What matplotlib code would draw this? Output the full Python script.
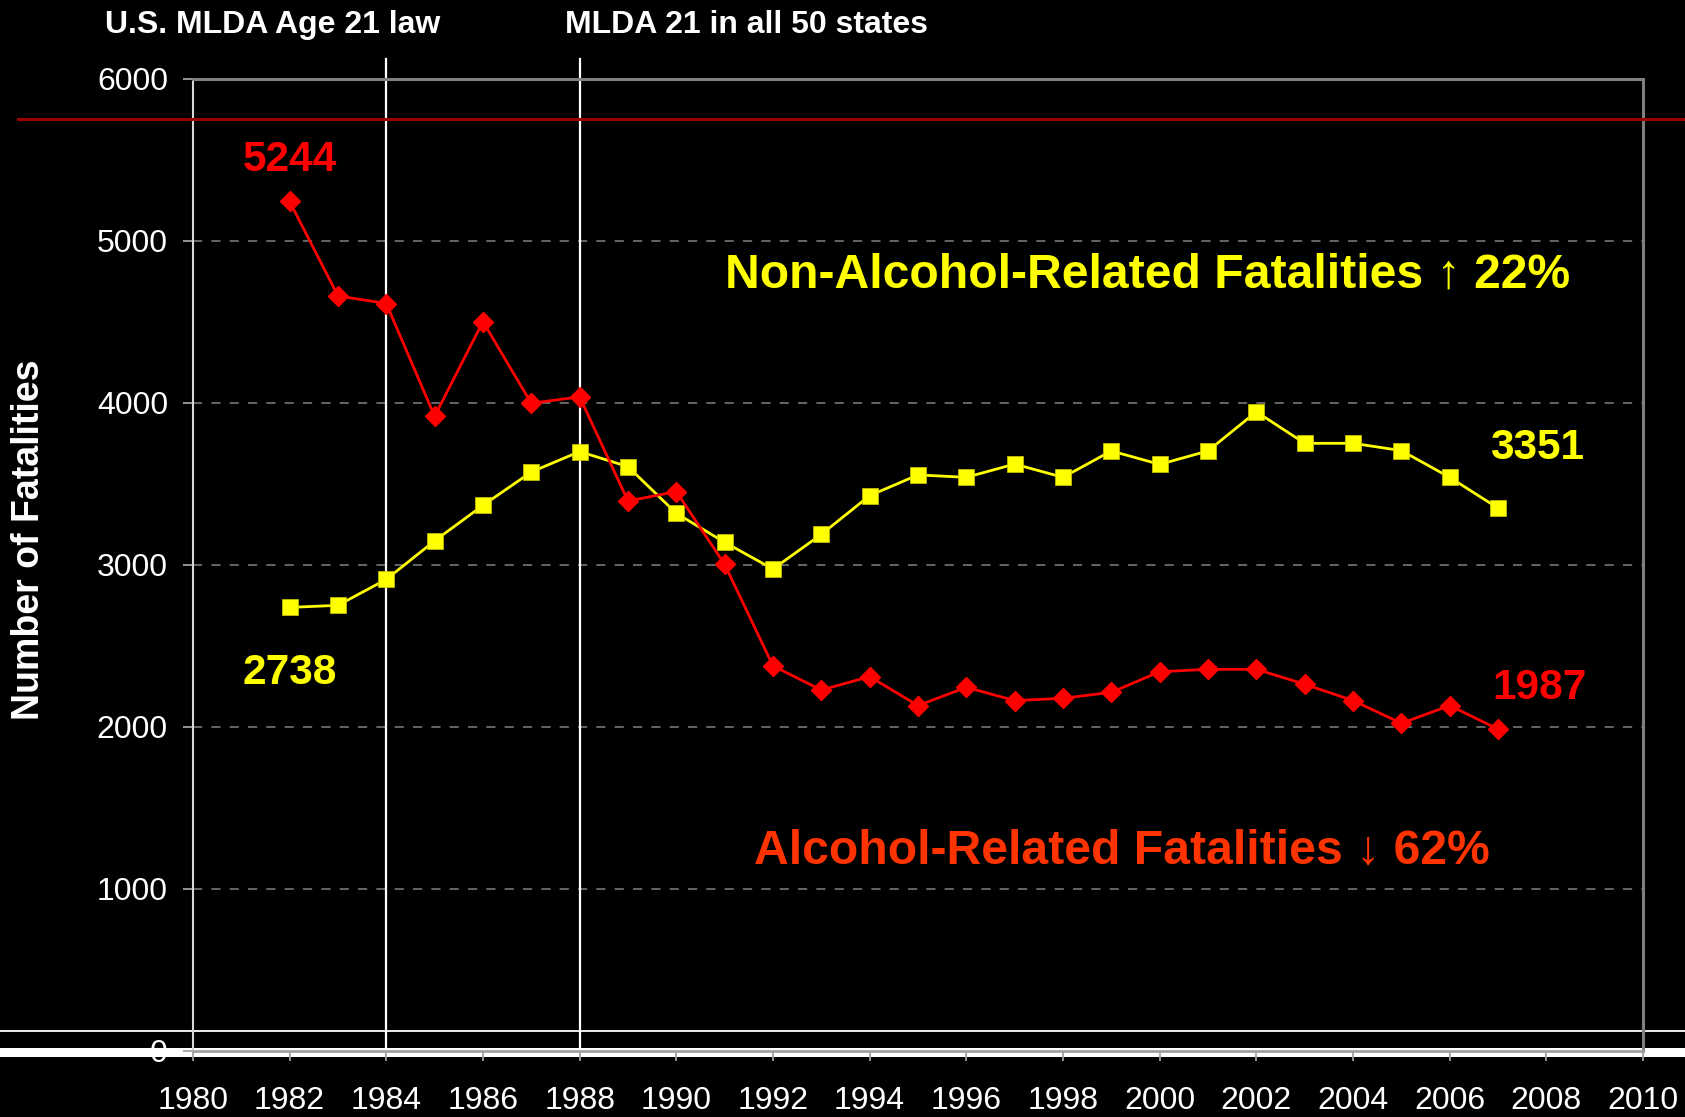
import matplotlib
matplotlib.use('Agg')
import matplotlib.pyplot as plt
from matplotlib import font_manager
from matplotlib.lines import Line2D

# fatalities by year
years = list(range(1982, 2008))
alcohol = [5244, 4661, 4614, 3918, 4502, 3998, 4038, 3395, 3453, 3004,
           2377, 2228, 2311, 2132, 2245, 2163, 2177, 2214, 2341, 2356,
           2356, 2264, 2163, 2023, 2132, 1987]
non_alcohol = [2738, 2751, 2911, 3149, 3368, 3574, 3700, 3607, 3319, 3140,
               2975, 3189, 3428, 3556, 3541, 3623, 3541, 3704, 3621, 3704,
               3946, 3751, 3751, 3706, 3541, 3351]
law_years = [1984, 1988]
xticks = list(range(1980, 2011, 2))
yticks = list(range(0, 6001, 1000))

plt.rcParams['font.family'] = ['Liberation Sans', 'DejaVu Sans']

fig = plt.figure(figsize=(16.85, 11.17), dpi=100, facecolor='black')
ax = fig.add_axes([0.1145, 0.0591, 0.9751 - 0.1145, 0.9293 - 0.0591])
ax.set_facecolor('none')
ax.set_zorder(3)

ax.set_xlim(1980, 2010)
ax.set_ylim(0, 6000)

for yv in yticks[1:-1]:
    ax.axhline(yv, color='#808080', lw=1.1, ls=(0, (6, 6)), zorder=1)

for yr in law_years:
    ax.plot([yr, yr], [25, 6125], color='white', lw=1.6, clip_on=False, zorder=2)

ax.plot(years, non_alcohol, color='#FFFF00', lw=2.0, marker='s', ms=11.5,
        mfc='#FFFF00', mec='#CCCC00', mew=0.5, zorder=4)
ax.plot(years, alcohol, color='#FF0000', lw=2.0, marker='D', ms=10,
        mfc='#FF0000', mec='#FF0000', zorder=5)

for s in ['top', 'right']:
    ax.spines[s].set_color('#808080')
    ax.spines[s].set_linewidth(2.2)
ax.spines['left'].set_color('#d8d8d8')
ax.spines['left'].set_linewidth(1.5)
ax.spines['bottom'].set_color('#a0a0a0')
ax.spines['bottom'].set_linewidth(2)

ax.set_xticks(xticks)
ax.set_yticks(yticks)
ax.tick_params(axis='x', colors='#a0a0a0', length=7, width=1.3, pad=18,
               labelcolor='white', labelsize=23)
ax.tick_params(axis='y', colors='#a0a0a0', length=7, width=1.3, pad=11,
               labelcolor='white', labelsize=23)

# value labels
big = 30.5
ax.text(1982.0, 5500, '5244', color='#FF0000', fontsize=big, fontweight='bold',
        ha='center', va='center')
ax.text(1982.0, 2333, '2738', color='#FFFF00', fontsize=big, fontweight='bold',
        ha='center', va='center')
ax.text(2007.8, 3722, '3351', color='#FFFF00', fontsize=big, fontweight='bold',
        ha='center', va='center')
ax.text(2007.85, 2241, '1987', color='#FF0000', fontsize=big, fontweight='bold',
        ha='center', va='center')

head = 34.7
ax.text(1999.74, 4790, 'Non-Alcohol-Related Fatalities \u2191 22%', color='#FFFF00',
        fontsize=head, fontweight='bold', ha='center', va='center')
ax.text(1999.22, 1235, 'Alcohol-Related Fatalities \u2193 62%', color='#FF3300',
        fontsize=head, fontweight='bold', ha='center', va='center')

top = 23
fig.text(0.0623, 0.9776, 'U.S. MLDA Age 21 law', color='white', fontsize=top,
         fontweight='bold', ha='left', va='center')
fig.text(0.3353, 0.9776, 'MLDA 21 in all 50 states', color='white', fontsize=top,
         fontweight='bold', ha='left', va='center')

fig.text(0.0172, 0.5166, 'Number of Fatalities', color='white', fontsize=27,
         fontweight='bold', rotation=90, ha='center', va='center')

# slide decorations: dark red rule near the top, white bars at the bottom
fig.add_artist(Line2D([18 / 1685, 1], [1 - 119 / 1117] * 2, color='#990000',
                      lw=2.2, transform=fig.transFigure, zorder=4))
fig.add_artist(Line2D([0, 1], [1 - 1031 / 1117] * 2, color='white',
                      lw=1.3, transform=fig.transFigure, zorder=1))
fig.add_artist(Line2D([0, 1], [1 - 1051.5 / 1117] * 2, color='white',
                      lw=6.5, transform=fig.transFigure, zorder=1))

fig.savefig('out.png', dpi=100, facecolor='black')
